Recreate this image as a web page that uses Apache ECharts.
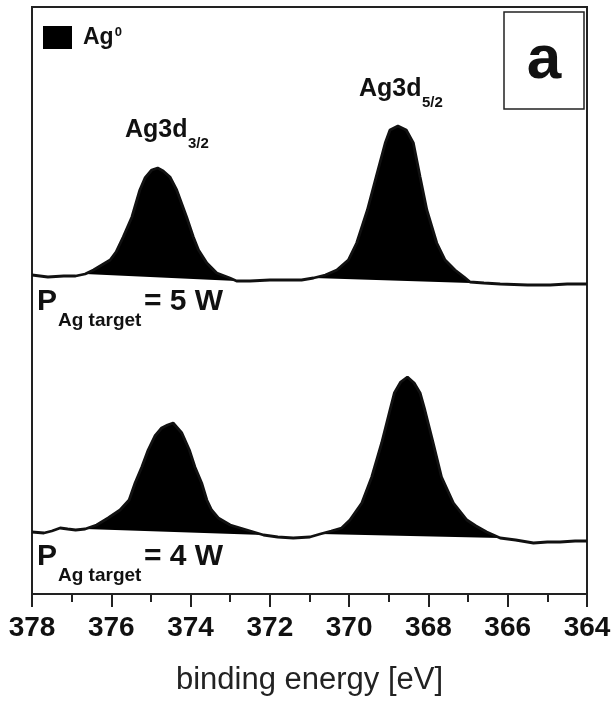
<!DOCTYPE html>
<html>
<head>
<meta charset="utf-8">
<script src="https://cdn.jsdelivr.net/npm/echarts@6/dist/echarts.min.js"></script>
<style>
  html, body { margin: 0; padding: 0; background: #fff; }
  #xpsChart { width: 616px; height: 701px; }
</style>
</head>
<body>
<div id="xpsChart"></div>
<script>
// binding energy [eV] and intensity (a.u., offset spectra)
const energy5W = [378.0, 377.6, 377.2, 376.9, 376.66, 376.45, 376.24, 376.03, 375.88, 375.70, 375.48, 375.28, 375.15, 374.98, 374.83, 374.69, 374.52, 374.35, 374.10, 373.93, 373.80, 373.59, 373.34, 373.01, 372.84, 372.5, 372.0, 371.5, 371.2, 370.90, 370.60, 370.31, 370.02, 369.81, 369.54, 369.32, 369.09, 368.97, 368.77, 368.56, 368.38, 368.21, 368.04, 367.79, 367.58, 367.33, 367.10, 366.95, 366.6, 366.19, 365.5, 364.93, 364.5, 364.0];
const counts5W = [319, 317, 318, 318, 320, 324, 329, 334, 342, 357, 377, 404, 416, 424, 426, 423, 417, 404, 377, 357, 344, 331, 321, 316, 313, 313, 314, 314, 314, 316, 319, 324, 334, 351, 384, 417, 451, 464, 468, 464, 451, 417, 384, 351, 334, 324, 317, 312, 311, 310, 309, 309, 310, 310];

const energy4W = [378.0, 377.7, 377.5, 377.29, 377.1, 376.9, 376.66, 376.37, 376.08, 375.78, 375.55, 375.40, 375.23, 375.07, 374.90, 374.73, 374.58, 374.44, 374.22, 374.03, 373.89, 373.72, 373.59, 373.47, 373.30, 373.00, 372.58, 372.16, 371.8, 371.41, 370.99, 370.73, 370.45, 370.19, 369.98, 369.68, 369.43, 369.18, 368.97, 368.86, 368.70, 368.53, 368.36, 368.21, 368.09, 367.88, 367.67, 367.37, 367.03, 366.80, 366.53, 366.19, 365.8, 365.35, 365.0, 364.68, 364.3, 364.0];
const counts4W = [62, 61, 63, 66, 65, 64, 65, 69, 76, 84, 94, 111, 127, 144, 158, 166, 169, 171, 161, 144, 127, 111, 94, 84, 76, 69, 64, 59, 57, 56, 57, 60, 63, 66, 74, 91, 117, 151, 184, 201, 212, 217, 211, 201, 184, 151, 117, 91, 74, 68, 62, 56, 54, 51, 52, 52, 53, 53];

// filled Ag0 components: [start eV, end eV, background at start, background at end]
const peaks5W = [[376.66, 372.84, 320, 313], [370.90, 366.95, 316, 311]];
const peaks4W = [[376.66, 372.16, 65, 59], [370.73, 366.19, 60, 56]];

const FONT = '"Liberation Sans", Arial, sans-serif';

function pairs(xs, ys) {
  return xs.map((x, i) => [x, ys[i]]);
}

// polygon between the spectrum and a straight background
function fillBetween(energy, counts) {
  return function (params, api) {
    const e0 = api.value(0), e1 = api.value(1);
    const pts = [];
    energy.forEach((e, i) => {
      if (e <= e0 + 1e-9 && e >= e1 - 1e-9) pts.push(api.coord([e, counts[i]]));
    });
    pts.push(api.coord([e1, api.value(3)]));
    pts.push(api.coord([e0, api.value(2)]));
    return {
      type: 'polygon',
      shape: { points: pts },
      style: { fill: '#000' },
    };
  };
}

// text placed by its baseline
function label(text, x, baseline, size, weight) {
  return {
    type: 'text',
    x: x,
    y: baseline - 0.81 * size,
    style: {
      text: text,
      font: (weight || 'bold') + ' ' + size + 'px ' + FONT,
      fill: '#111',
      verticalAlign: 'top',
    },
  };
}

const chart = echarts.init(document.getElementById('xpsChart'));

chart.setOption({
  animation: false,
  grid: {
    left: 32,
    right: 29,
    top: 7,
    bottom: 107,
    show: true,
    borderColor: '#222',
    borderWidth: 2,
  },
  legend: {
    left: 43,
    top: 26,
    padding: 0,
    itemWidth: 29,
    itemHeight: 23,
    selectedMode: false,
    data: [{ name: 'Ag0', icon: 'rect' }],
    formatter: () => '{t|Ag}{s|0}',
    textStyle: {
      rich: {
        t: { fontSize: 23, fontWeight: 'bold', fontFamily: FONT, color: '#111', padding: [0, 0, 0, 6] },
        s: { fontSize: 13, fontWeight: 'bold', fontFamily: FONT, color: '#111', verticalAlign: 'top', padding: [0, 0, 4, 1] },
      },
    },
  },
  xAxis: {
    type: 'value',
    min: 364,
    max: 378,
    interval: 2,
    inverse: true,
    name: 'binding energy [eV]',
    nameLocation: 'middle',
    nameGap: 71,
    nameTextStyle: { fontSize: 31, color: '#222', fontFamily: FONT },
    axisLine: { lineStyle: { color: '#222', width: 2 } },
    axisTick: { length: 13, lineStyle: { color: '#222', width: 2 } },
    minorTick: { show: true, splitNumber: 2, length: 8, lineStyle: { color: '#222', width: 2 } },
    splitLine: { show: false },
    axisLabel: { margin: 20, fontSize: 28, fontWeight: 'bold', color: '#111', fontFamily: FONT },
  },
  yAxis: {
    type: 'value',
    min: 0,
    max: 587,
    show: false,
  },
  series: [
    {
      name: 'Ag0',
      type: 'custom',
      data: peaks5W,
      renderItem: fillBetween(energy5W, counts5W),
      itemStyle: { color: '#000' },
      silent: true,
      z: 2,
    },
    {
      name: 'Ag0',
      type: 'custom',
      data: peaks4W,
      renderItem: fillBetween(energy4W, counts4W),
      itemStyle: { color: '#000' },
      silent: true,
      z: 2,
    },
    {
      name: '5 W',
      type: 'line',
      data: pairs(energy5W, counts5W),
      symbol: 'none',
      lineStyle: { color: '#111', width: 2.8 },
      z: 3,
    },
    {
      name: '4 W',
      type: 'line',
      data: pairs(energy4W, counts4W),
      symbol: 'none',
      lineStyle: { color: '#111', width: 2.8 },
      z: 3,
    },
  ],
  graphic: [
    label('Ag3d', 125, 138, 25),
    label('3/2', 188, 149, 15),
    label('Ag3d', 359, 97, 25),
    label('5/2', 422, 108, 15),
    label('P', 37, 311, 30),
    label('Ag target', 58, 327, 19),
    label('= 5 W', 144, 311, 30),
    label('P', 37, 566, 30),
    label('Ag target', 58, 582, 19),
    label('= 4 W', 144, 566, 30),
    {
      type: 'rect',
      shape: { x: 504, y: 12, width: 80, height: 97 },
      style: { fill: '#fff', stroke: '#222', lineWidth: 1.5 },
    },
    {
      type: 'text',
      x: 544,
      y: 61,
      style: {
        text: 'a',
        font: 'bold 62px ' + FONT,
        fill: '#111',
        align: 'center',
        verticalAlign: 'middle',
      },
    },
  ],
});

window.addEventListener('resize', () => {
  chart.resize();
});
</script>
</body>
</html>
